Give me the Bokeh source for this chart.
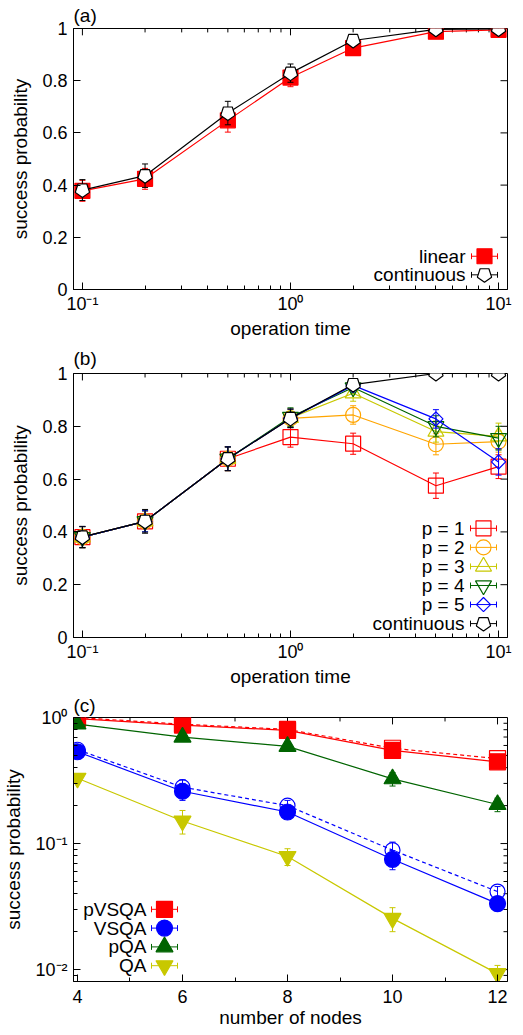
import numpy as np
from bokeh.plotting import figure
from bokeh.layouts import column
from bokeh.models import Range1d, LinearScale, FixedTicker, CustomJSTickFormatter
from bokeh.core.properties import value
from bokeh.embed import file_html
from bokeh.resources import INLINE

FONT = "Liberation Sans"

# ---------------- data ----------------
op_time = [0.1, 0.2, 0.5, 1, 2, 5, 10]

a_linear = [0.378, 0.424, 0.648, 0.812, 0.925, 0.988, 0.995]
a_linear_err = [0.04, 0.04, 0.045, 0.035, 0.02, 0.01, 0.005]
a_cont = [0.381, 0.436, 0.676, 0.829, 0.954, 0.997, 0.998]
a_cont_err = [0.04, 0.045, 0.045, 0.035, 0.015, 0.005, 0.003]

b_p1 = [0.38, 0.44, 0.677, 0.759, 0.734, 0.575, 0.647]
b_p1_err = [0.04, 0.04, 0.045, 0.038, 0.04, 0.048, 0.045]
b_p2 = [0.38, 0.44, 0.677, 0.83, 0.843, 0.732, 0.742]
b_p2_err = [0.04, 0.04, 0.045, 0.035, 0.035, 0.04, 0.04]
b_p3 = [0.38, 0.44, 0.677, 0.832, 0.925, 0.78, 0.762]
b_p3_err = [0.04, 0.04, 0.045, 0.035, 0.03, 0.04, 0.05]
b_p4 = [0.38, 0.44, 0.677, 0.835, 0.947, 0.8, 0.755]
b_p4_err = [0.04, 0.04, 0.045, 0.035, 0.02, 0.04, 0.045]
b_p5 = [0.38, 0.44, 0.677, 0.83, 0.955, 0.828, 0.665]
b_p5_err = [0.04, 0.04, 0.045, 0.035, 0.02, 0.035, 0.05]
b_cont = [0.381, 0.44, 0.677, 0.83, 0.958, 1.0, 1.0]
b_cont_err = [0.04, 0.045, 0.045, 0.035, 0.015, 0.003, 0.003]

nodes = [4, 6, 8, 10, 12]
c_pvsqa = [0.98, 0.87, 0.79, 0.548, 0.445]
c_pvsqa_err = [0.02, 0.03, 0.03, 0.03, 0.03]
c_pvsqa_open = [1.0, 0.885, 0.805, 0.57, 0.472]
c_pvsqa_open_err = [0.02, 0.03, 0.03, 0.03, 0.03]
c_vsqa = [0.535, 0.26, 0.178, 0.075, 0.0334]
c_vsqa_err = [0.03, 0.04, 0.02, 0.013, 0.003]
c_vsqa_open = [0.555, 0.28, 0.2, 0.0887, 0.0416]
c_vsqa_open_err = [0.03, 0.04, 0.02, 0.014, 0.004]
c_pqa = [0.887, 0.698, 0.59, 0.326, 0.204]
c_pqa_err = [0.03, 0.04, 0.04, 0.04, 0.025]
c_qa = [0.33, 0.151, 0.079, 0.0255, 0.0093]
c_qa_err = [0.02, 0.032, 0.012, 0.0055, 0.0015]

# ticks
log_ticks = [0.1, 1, 10]
log_minor = [0.2, 0.3, 0.4, 0.5, 0.6, 0.7, 0.8, 0.9, 2, 3, 4, 5, 6, 7, 8, 9]
lin_ticks = [0, 0.2, 0.4, 0.6, 0.8, 1]
c_x_ticks = [4, 6, 8, 10, 12]
c_x_minor = [5, 7, 9, 11]
c_y_ticks = [0.01, 0.1, 1]
c_y_minor = [0.009, 0.02, 0.03, 0.04, 0.05, 0.06, 0.07, 0.08, 0.09,
             0.2, 0.3, 0.4, 0.5, 0.6, 0.7, 0.8, 0.9]

RED, ORANGE, YELLOW, GREEN, BLUE, BLACK = "#ff0000", "#ffa500", "#c8c800", "#006400", "#0000ff", "#000000"

W = 523
BL, BR = 73, 16
FW = W - BL - BR
PENT_ANGLE = np.pi


def sup_formatter():
    return CustomJSTickFormatter(code="""
const e = Math.round(Math.log10(tick));
const m = {"-": "\u207b", "0": "\u2070", "1": "\u00b9", "2": "\u00b2", "3": "\u00b3"};
return "10" + String(e).split("").map(c => m[c]).join("");
""")


def lin_formatter():
    return CustomJSTickFormatter(code="return String(Math.round(tick*10)/10);")


def make_fig(height, top, bottom, xr, yr, x_type, y_type, title, title_standoff):
    p = figure(width=W, height=height, x_range=Range1d(*xr), y_range=Range1d(*yr),
               x_axis_type=x_type, y_axis_type=y_type, output_backend="svg",
               toolbar_location=None, min_border_left=BL, min_border_right=BR,
               min_border_top=top, min_border_bottom=bottom,
               background_fill_color="white", border_fill_color="white",
               outline_line_color="black", outline_line_width=1, title=title)
    p.title.align = "left"
    p.title.text_font = FONT
    p.title.text_font_size = "19px"
    p.title.text_font_style = "normal"
    p.title.text_color = "black"
    p.title.standoff = title_standoff
    p.title.offset = 0
    p.grid.visible = False
    fh = height - top - bottom
    p.extra_x_ranges = {"px": Range1d(0, FW)}
    p.extra_y_ranges = {"px": Range1d(0, fh)}
    p.extra_x_scales = {"px": LinearScale()}
    p.extra_y_scales = {"px": LinearScale()}
    return p, fh


def setup_axes(p, fh, xticks, xminor, xfmt, yticks, yminor, yfmt, xlabel, ylabel, xstand):
    p.xaxis.ticker = FixedTicker(ticks=xticks, minor_ticks=xminor)
    p.yaxis.ticker = FixedTicker(ticks=yticks, minor_ticks=yminor)
    p.xaxis.formatter = xfmt
    p.yaxis.formatter = yfmt
    p.xaxis.axis_label = xlabel
    p.yaxis.axis_label = ylabel
    p.xaxis.major_label_standoff = xstand
    p.yaxis.major_label_standoff = 6
    p.xaxis.axis_label_standoff = 1
    p.yaxis.axis_label_standoff = 8
    for ax in p.axis:
        ax.major_tick_in = 7
        ax.major_tick_out = 0
        ax.minor_tick_in = 4
        ax.minor_tick_out = 0
        ax.axis_line_color = "black"
        ax.major_tick_line_color = "black"
        ax.minor_tick_line_color = "black"
        ax.major_label_text_font = FONT
        ax.major_label_text_font_size = "18px"
        ax.major_label_text_color = "black"
        ax.axis_label_text_font = FONT
        ax.axis_label_text_font_size = "19px"
        ax.axis_label_text_font_style = "normal"
        ax.axis_label_text_color = "black"
    # mirrored ticks on the top and right edges (data position along the edge, pixel length inward)
    for ticks, ln in ((xticks, 7), (xminor, 4)):
        p.segment(x0=ticks, x1=ticks, y0=[fh] * len(ticks), y1=[fh - ln] * len(ticks),
                  line_color="black", line_width=1, y_range_name="px")
    for ticks, ln in ((yticks, 7), (yminor, 4)):
        p.segment(x0=[FW] * len(ticks), x1=[FW - ln] * len(ticks), y0=ticks, y1=ticks,
                  line_color="black", line_width=1, x_range_name="px")


def draw_marker(p, x, y, marker, size, color, fill, angle=0.0, **kw):
    if marker == "pentagon":
        try:
            return p.ngon(x=x, y=y, radius=size / 2.0, radius_units="screen", n=5,
                          angle=PENT_ANGLE, line_color=color, fill_color=fill,
                          line_width=1.2, **kw)
        except Exception:
            marker = "hex"
    return p.scatter(x=x, y=y, marker=marker, size=size, angle=angle,
                     line_color=color, fill_color=fill, line_width=1.2, **kw)


def series(p, x, y, e, color, marker, size, fill, dash="solid", angle=0.0):
    lo = [v - d for v, d in zip(y, e)]
    hi = [v + d for v, d in zip(y, e)]
    p.segment(x0=x, y0=lo, x1=x, y1=hi, line_color=color, line_width=1)
    p.scatter(x=list(x) * 2, y=lo + hi, marker="dash", size=6, line_color=color, line_width=1)
    p.line(x, y, line_color=color, line_width=1.2, line_dash=dash)
    draw_marker(p, x, y, marker, size, color, fill, angle)


def legend_entry(p, yc, xm, xt, label, color, marker, size, fill, angle=0.0):
    kw = dict(x_range_name="px", y_range_name="px")
    p.segment(x0=[xm - 13], y0=[yc], x1=[xm + 13], y1=[yc], line_color=color, line_width=1, **kw)
    p.segment(x0=[xm - 13, xm + 13], y0=[yc - 3, yc - 3], x1=[xm - 13, xm + 13],
              y1=[yc + 3, yc + 3], line_color=color, line_width=1, **kw)
    draw_marker(p, [xm], [yc], marker, size, color, fill, angle, **kw)
    p.text(x=[xt], y=[yc], text=[label], text_align="right", text_baseline="middle",
           text_font=value(FONT), text_font_size=value("19px"), text_color="black", **kw)


XR = (0.0906, 11.04)

# ---------------- panel (a) ----------------
pa, fha = make_fig(341, 26, 48, XR, (0, 1), "log", "linear", "(a)", 5)
setup_axes(pa, fha, log_ticks, log_minor, sup_formatter(), lin_ticks, [], lin_formatter(),
           "operation time", "success probability", 4)
series(pa, op_time, a_linear, a_linear_err, RED, "square", 15, RED)
series(pa, op_time, a_cont, a_cont_err, BLACK, "pentagon", 15, "white")
legend_entry(pa, 34, 411, 392, "linear", RED, "square", 15, RED)
legend_entry(pa, 15, 411, 392, "continuous", BLACK, "pentagon", 15, "white")

# ---------------- panel (b) ----------------
pb, fhb = make_fig(349, 30, 53, XR, (0, 1), "log", "linear", "(b)", 9)
setup_axes(pb, fhb, log_ticks, log_minor, sup_formatter(), lin_ticks, [], lin_formatter(),
           "operation time", "success probability", 4)
series(pb, op_time, b_p1, b_p1_err, RED, "square", 15, None)
series(pb, op_time, b_p2, b_p2_err, ORANGE, "circle", 15, None)
series(pb, op_time, b_p3, b_p3_err, YELLOW, "triangle", 16, None)
series(pb, op_time, b_p4, b_p4_err, GREEN, "inverted_triangle", 16, None)
series(pb, op_time, b_p5, b_p5_err, BLUE, "square", 10, None, angle=np.pi / 4)
series(pb, op_time, b_cont, b_cont_err, BLACK, "pentagon", 15, "white")
b_leg = [("p = 1", RED, "square", 15, None, 0.0),
         ("p = 2", ORANGE, "circle", 15, None, 0.0),
         ("p = 3", YELLOW, "triangle", 16, None, 0.0),
         ("p = 4", GREEN, "inverted_triangle", 16, None, 0.0),
         ("p = 5", BLUE, "square", 10, None, np.pi / 4),
         ("continuous", BLACK, "pentagon", 15, "white", 0.0)]
for i, (lab, col, mk, sz, fl, ang) in enumerate(b_leg):
    legend_entry(pb, 110 - i * 19.2, 410, 391, lab, col, mk, sz, fl, ang)

# ---------------- panel (c) ----------------
pc, fhc = make_fig(345, 24, 54, (3.924, 12.19), (0.00805, 1.0), "linear", "log", "(c)", 4)
setup_axes(pc, fhc, c_x_ticks, c_x_minor, lin_formatter(), c_y_ticks, c_y_minor, sup_formatter(),
           "number of nodes", "success probability", 8)
series(pc, nodes, c_pvsqa_open, c_pvsqa_open_err, RED, "square", 16, None, dash="4 3")
series(pc, nodes, c_pvsqa, c_pvsqa_err, RED, "square", 16, RED)
series(pc, nodes, c_vsqa_open, c_vsqa_open_err, BLUE, "circle", 15, None, dash="4 3")
series(pc, nodes, c_vsqa, c_vsqa_err, BLUE, "circle", 16, BLUE)
series(pc, nodes, c_pqa, c_pqa_err, GREEN, "triangle", 17, GREEN)
series(pc, nodes, c_qa, c_qa_err, YELLOW, "inverted_triangle", 17, YELLOW)
c_leg = [("pVSQA", RED, "square", 16, RED),
         ("VSQA", BLUE, "circle", 16, BLUE),
         ("pQA", GREEN, "triangle", 17, GREEN),
         ("QA", YELLOW, "inverted_triangle", 17, YELLOW)]
for i, (lab, col, mk, sz, fl) in enumerate(c_leg):
    legend_entry(pc, 73 - i * 19, 91, 73, lab, col, mk, sz, fl)

layout = column(pa, pb, pc, spacing=0)
with open("out.html", "w", encoding="utf-8") as f:
    f.write(file_html(layout, INLINE))
